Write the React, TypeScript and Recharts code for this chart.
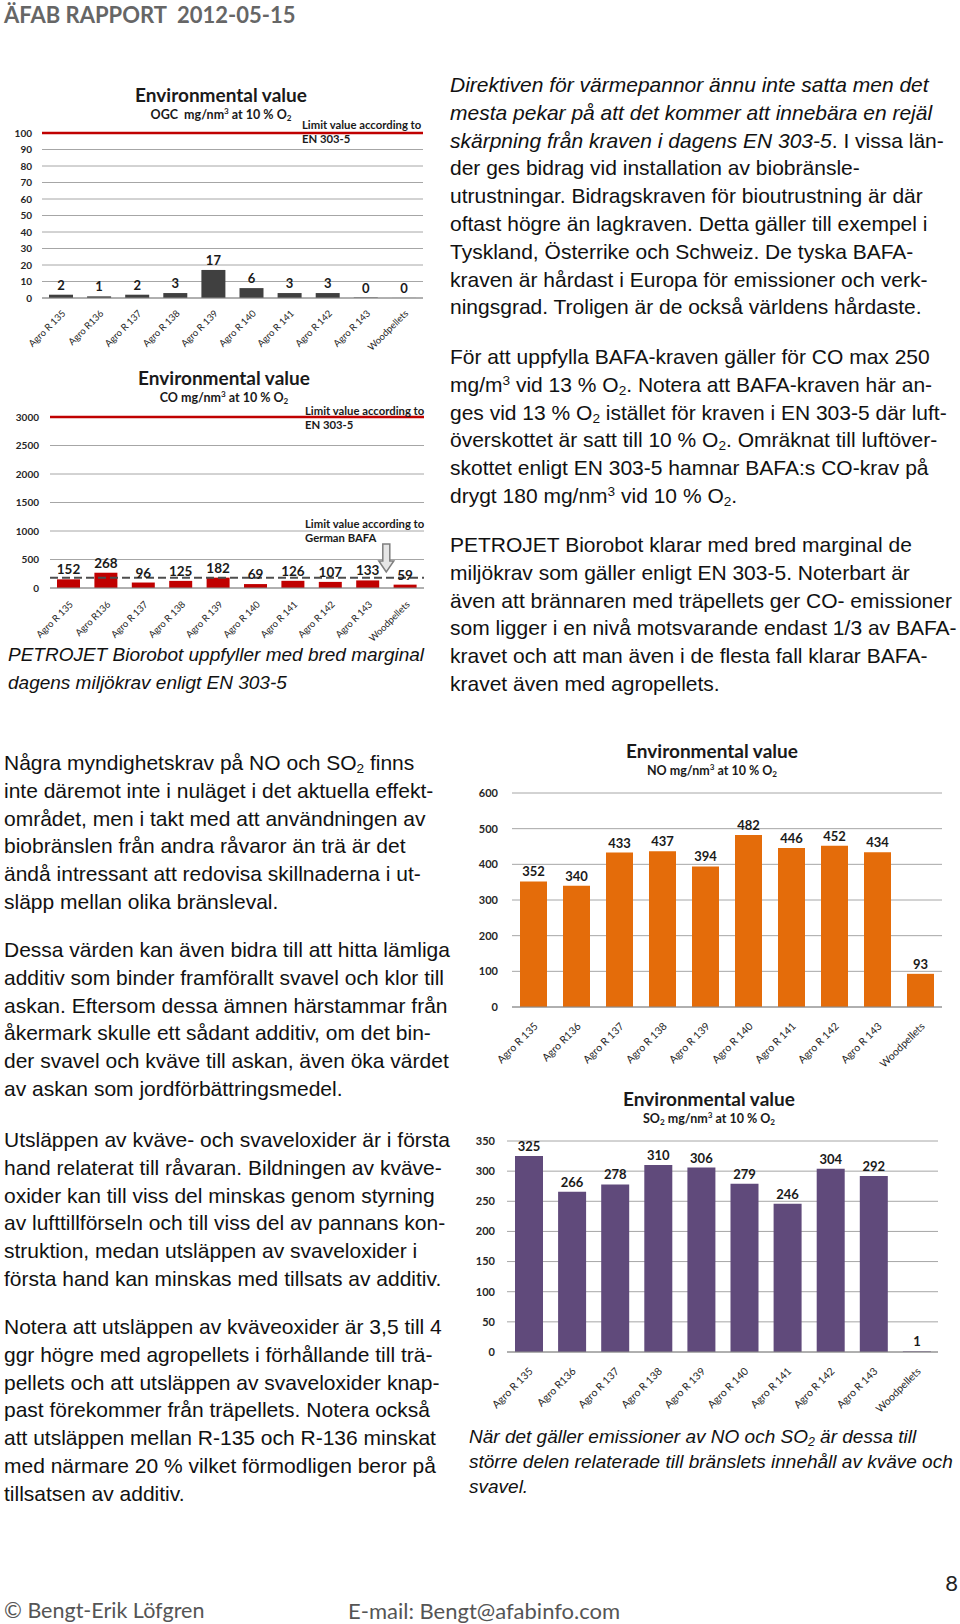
import React from "react";
import {
  BarChart,
  Bar,
  XAxis,
  YAxis,
  CartesianGrid,
  LabelList,
  ReferenceLine,
  ReferenceDot,
} from "recharts";

// fuel samples on the x axis (same in all four charts)
const categories = [
  "Agro R 135",
  "Agro R136",
  "Agro R 137",
  "Agro R 138",
  "Agro R 139",
  "Agro R 140",
  "Agro R 141",
  "Agro R 142",
  "Agro R 143",
  "Woodpellets",
];

// mg/nm3 at 10 % O2 (labels are shown rounded)
const ogcValues = [2, 1, 2, 3, 17, 6, 3, 3, 0.3, 0.04];
const coValues = [152, 268, 96, 125, 182, 69, 126, 107, 133, 59];
const noValues = [352, 340, 433, 437, 394, 482, 446, 452, 434, 93];
const so2Values = [325, 266, 278, 310, 306, 279, 246, 304, 292, 1];

const ogcTicks = [0, 10, 20, 30, 40, 50, 60, 70, 80, 90, 100];
const coTicks = [0, 500, 1000, 1500, 2000, 2500, 3000];
const noTicks = [0, 100, 200, 300, 400, 500, 600];
const so2Ticks = [0, 50, 100, 150, 200, 250, 300, 350];

const ogcLimitEN = 100;
const coLimitEN = 3000;
const coLimitBAFA = 180;

const toRows = (values: number[]) =>
  categories.map((name, i) => ({ name, v: values[i] }));

const CAL = "Lato, 'Open Sans', sans-serif";
const ARIAL = "'Liberation Sans', Arial, sans-serif";

const SlantTick = (props: any) => {
  const { x, y, payload, dx, dy, size } = props;
  const ax = x + dx;
  const ay = y + dy;
  return (
    <text
      x={ax}
      y={ay}
      textAnchor="end"
      transform={`rotate(-45 ${ax} ${ay})`}
      fontSize={size}
      fontFamily={CAL}
      fill="#262626"
    >
      {payload.value}
    </text>
  );
};

type ChartProps = {
  values: number[];
  color: string;
  ticks: number[];
  width: number;
  height: number;
  margin: { top: number; right: number; bottom: number; left: number };
  yWidth: number;
  xHeight: number;
  tickGap: number;
  barSize: number;
  labelSize: number;
  yFont: number;
  xFont: number;
  xOff: [number, number];
  children?: React.ReactNode;
};

const EnvChart = (p: ChartProps) => (
  <BarChart width={p.width} height={p.height} data={toRows(p.values)} margin={p.margin}>
    <CartesianGrid vertical={false} stroke="#a6a6a6" />
    <XAxis
      dataKey="name"
      interval={0}
      height={p.xHeight}
      tickLine={false}
      axisLine={{ stroke: "#8c8c8c" }}
      tick={(t: any) => (
        <SlantTick {...t} dx={p.xOff[0]} dy={p.xOff[1]} size={p.xFont} />
      )}
    />
    <YAxis
      type="number"
      domain={[p.ticks[0], p.ticks[p.ticks.length - 1]]}
      ticks={p.ticks}
      interval={0}
      width={p.yWidth}
      axisLine={false}
      tickLine={false}
      tickSize={0}
      tickMargin={p.tickGap}
      tick={{ fontSize: p.yFont, fontWeight: 700, fill: "#262626", fontFamily: CAL }}
    />
    <Bar dataKey="v" fill={p.color} barSize={p.barSize} isAnimationActive={false}>
      <LabelList
        dataKey="v"
        position="top"
        offset={5}
        fill="#1a1a1a"
        fontSize={p.labelSize}
        fontWeight={700}
        fontFamily={CAL}
        formatter={(v: any) => Math.round(Number(v))}
      />
    </Bar>
    {p.children}
  </BarChart>
);

const Txt = ({ x, y, center, style, children }: any) => (
  <div
    style={{
      position: "absolute",
      left: x,
      top: y,
      transform: center ? "translate(-50%, -50%)" : "translateY(-50%)",
      whiteSpace: "nowrap",
      ...style,
    }}
  >
    {children}
  </div>
);

const Sub = ({ children }: any) => (
  <sub style={{ fontSize: "0.65em", lineHeight: 0, verticalAlign: "-0.25em" }}>{children}</sub>
);
const Sup = ({ children }: any) => (
  <sup style={{ fontSize: "0.65em", lineHeight: 0, verticalAlign: "0.55em" }}>{children}</sup>
);

const Para = ({ x, y, lines, size = 21, lh = 27.8, italic = false }: any) => (
  <div
    style={{
      position: "absolute",
      left: x,
      top: y,
      fontFamily: ARIAL,
      fontSize: size,
      lineHeight: `${lh}px`,
      color: "#111",
      fontStyle: italic ? "italic" : "normal",
      whiteSpace: "nowrap",
    }}
  >
    {lines.map((l: React.ReactNode, i: number) => (
      <div key={i}>{l}</div>
    ))}
  </div>
);

const ChartTitle = ({ x, y, sub }: any) => (
  <>
    <Txt x={x} y={y} center style={{ fontFamily: CAL, fontWeight: 700, fontSize: 19, color: "#1a1a1a" }}>
      Environmental value
    </Txt>
    <Txt x={x} y={y + 20} center style={{ fontFamily: CAL, fontWeight: 700, fontSize: 12.5, color: "#1a1a1a" }}>
      {sub}
    </Txt>
  </>
);

const LimitNote = ({ x, y, lines }: any) => (
  <div
    style={{
      position: "absolute",
      left: x,
      top: y,
      fontFamily: CAL,
      fontWeight: 700,
      fontSize: 11.3,
      lineHeight: "14px",
      color: "#1a1a1a",
      whiteSpace: "nowrap",
    }}
  >
    {lines.map((l: string) => (
      <div key={l}>{l}</div>
    ))}
  </div>
);

const Arrow = (props: any) => {
  const { cx, cy } = props;
  const ax = cx - 19;
  const d = `M${ax},${cy} L${ax - 7.5},${cy - 11} L${ax - 3.5},${cy - 11} L${ax - 3.5},${cy - 28} L${ax + 3.5},${cy - 28} L${ax + 3.5},${cy - 11} L${ax + 7.5},${cy - 11} Z`;
  return <path d={d} fill="#e6e6e6" stroke="#7f7f7f" strokeWidth={1.5} />;
};

export default function App() {
  return (
    <div
      style={{
        position: "absolute",
        left: 0,
        top: 0,
        width: 960,
        height: 1624,
        background: "#fff",
        overflow: "hidden",
      }}
    >
      <Txt x={4} y={14} style={{ fontFamily: CAL, fontWeight: 700, fontSize: 22, color: "#666" }}>
        ÄFAB RAPPORT&nbsp; 2012-05-15
      </Txt>

      {/* OGC */}
      <div style={{ position: "absolute", left: 0, top: 0 }}>
        <EnvChart
          values={ogcValues}
          color="#404040"
          ticks={ogcTicks}
          width={440}
          height={372}
          margin={{ top: 133, right: 17, bottom: 0, left: 0 }}
          yWidth={42}
          xHeight={74}
          tickGap={10}
          barSize={24}
          labelSize={13}
          yFont={10}
          xFont={9.5}
          xOff={[5, 8]}
        >
          <ReferenceLine y={ogcLimitEN} stroke="#c00000" strokeWidth={2.6} />
        </EnvChart>
      </div>
      <ChartTitle
        x={221}
        y={94}
        sub={
          <>
            OGC&nbsp; mg/nm<Sup>3</Sup> at 10 % O<Sub>2</Sub>
          </>
        }
      />
      <LimitNote x={302} y={117.5} lines={["Limit value according to", "EN 303-5"]} />

      {/* CO */}
      <div style={{ position: "absolute", left: 0, top: 340 }}>
        <EnvChart
          values={coValues}
          color="#c00000"
          ticks={coTicks}
          width={440}
          height={318}
          margin={{ top: 77, right: 16, bottom: 0, left: 0 }}
          yWidth={50}
          xHeight={70}
          tickGap={11}
          barSize={23}
          labelSize={13.5}
          yFont={10}
          xFont={9.5}
          xOff={[5, 9]}
        >
          <ReferenceLine y={coLimitEN} stroke="#c00000" strokeWidth={2.6} />
          <ReferenceLine y={coLimitBAFA} stroke="#4d4d4d" strokeWidth={2.2} strokeDasharray="8 4" />
          <ReferenceDot x="Woodpellets" y={280} r={0} shape={Arrow} />
        </EnvChart>
      </div>
      <ChartTitle
        x={224}
        y={377}
        sub={
          <>
            CO mg/nm<Sup>3</Sup> at 10 % O<Sub>2</Sub>
          </>
        }
      />
      <LimitNote x={305} y={403.5} lines={["Limit value according to", "EN 303-5"]} />
      <LimitNote x={305} y={517} lines={["Limit value according to", "German BAFA"]} />

      <Para
        x={8}
        y={641}
        size={19}
        italic
        lines={["PETROJET Biorobot uppfyller med bred marginal", "dagens miljökrav enligt EN 303-5"]}
      />

      {/* right column text */}
      <Para
        x={450}
        y={71}
        lines={[
          <i>Direktiven för värmepannor ännu inte satta men det</i>,
          <i>mesta pekar på att det kommer att innebära en rejäl</i>,
          <>
            <i>skärpning från kraven i dagens EN 303-5</i>. I vissa län-
          </>,
          "der ges bidrag vid installation av biobränsle-",
          "utrustningar. Bidragskraven för bioutrustning är där",
          "oftast högre än lagkraven. Detta gäller till exempel i",
          "Tyskland, Österrike och Schweiz. De tyska BAFA-",
          "kraven är hårdast i Europa för emissioner och verk-",
          "ningsgrad. Troligen är de också världens hårdaste.",
        ]}
      />
      <Para
        x={450}
        y={343}
        lines={[
          "För att uppfylla BAFA-kraven gäller för CO max 250",
          <>
            mg/m<Sup>3</Sup> vid 13 % O<Sub>2</Sub>. Notera att BAFA-kraven här an-
          </>,
          <>
            ges vid 13 % O<Sub>2</Sub> istället för kraven i EN 303-5 där luft-
          </>,
          <>
            överskottet är satt till 10 % O<Sub>2</Sub>. Omräknat till luftöver-
          </>,
          "skottet enligt EN 303-5 hamnar BAFA:s CO-krav på",
          <>
            drygt 180 mg/nm<Sup>3</Sup> vid 10 % O<Sub>2</Sub>.
          </>,
        ]}
      />
      <Para
        x={450}
        y={531}
        lines={[
          "PETROJET Biorobot klarar med bred marginal de",
          "miljökrav som gäller enligt EN 303-5. Noterbart är",
          "även att brännaren med träpellets ger CO- emissioner",
          "som ligger i en nivå motsvarande endast 1/3 av BAFA-",
          "kravet och att man även i de flesta fall klarar BAFA-",
          "kravet även med agropellets.",
        ]}
      />

      {/* left column text */}
      <Para
        x={4}
        y={749}
        lines={[
          <>
            Några myndighetskrav på NO och SO<Sub>2</Sub> finns
          </>,
          "inte däremot inte i nuläget i det aktuella effekt-",
          "området, men i takt med att användningen av",
          "biobränslen från andra råvaror än trä är det",
          "ändå intressant att redovisa skillnaderna i ut-",
          "släpp mellan olika bränsleval.",
        ]}
      />
      <Para
        x={4}
        y={936}
        lines={[
          "Dessa värden kan även bidra till att hitta lämliga",
          "additiv som binder framförallt svavel och klor till",
          "askan. Eftersom dessa ämnen härstammar från",
          "åkermark skulle ett sådant additiv, om det bin-",
          "der svavel och kväve till askan, även öka värdet",
          "av askan som jordförbättringsmedel.",
        ]}
      />
      <Para
        x={4}
        y={1126}
        lines={[
          "Utsläppen av kväve- och svaveloxider är i första",
          "hand relaterat till råvaran. Bildningen av kväve-",
          "oxider kan till viss del minskas genom styrning",
          "av lufttillförseln och till viss del av pannans kon-",
          "struktion, medan utsläppen av svaveloxider i",
          "första hand kan minskas med tillsats av additiv.",
        ]}
      />
      <Para
        x={4}
        y={1313}
        lines={[
          "Notera att utsläppen av kväveoxider är 3,5 till 4",
          "ggr högre med agropellets i förhållande till trä-",
          "pellets och att utsläppen av svaveloxider knap-",
          "past förekommer från träpellets. Notera också",
          "att utsläppen mellan R-135 och R-136 minskat",
          "med närmare 20 % vilket förmodligen beror på",
          "tillsatsen av additiv.",
        ]}
      />

      {/* NO */}
      <div style={{ position: "absolute", left: 440, top: 780 }}>
        <EnvChart
          values={noValues}
          color="#e46c0a"
          ticks={noTicks}
          width={520}
          height={300}
          margin={{ top: 13, right: 18, bottom: 0, left: 0 }}
          yWidth={72}
          xHeight={73}
          tickGap={14}
          barSize={27}
          labelSize={13}
          yFont={11}
          xFont={10.5}
          xOff={[5, 12]}
        />
      </div>
      <ChartTitle
        x={712}
        y={750}
        sub={
          <>
            NO mg/nm<Sup>3</Sup> at 10 % O<Sub>2</Sub>
          </>
        }
      />

      {/* SO2 */}
      <div style={{ position: "absolute", left: 440, top: 1130 }}>
        <EnvChart
          values={so2Values}
          color="#604a7b"
          ticks={so2Ticks}
          width={520}
          height={292}
          margin={{ top: 11, right: 22, bottom: 0, left: 0 }}
          yWidth={67}
          xHeight={70}
          tickGap={12}
          barSize={28}
          labelSize={13}
          yFont={11}
          xFont={10.5}
          xOff={[5, 12]}
        />
      </div>
      <ChartTitle
        x={709}
        y={1098}
        sub={
          <>
            SO<Sub>2</Sub> mg/nm<Sup>3</Sup> at 10 % O<Sub>2</Sub>
          </>
        }
      />
      <Para
        x={469}
        y={1424}
        size={19}
        lh={25}
        italic
        lines={[
          <>
            När det gäller emissioner av NO och SO<Sub>2</Sub> är dessa till
          </>,
          "större delen relaterade till bränslets innehåll av kväve och",
          "svavel.",
        ]}
      />

      {/* footer */}
      <Txt x={958} y={1582} style={{ fontFamily: CAL, fontSize: 22, color: "#222", transform: "translate(-100%, -50%)" }}>
        8
      </Txt>
      <Txt x={4} y={1610} style={{ fontFamily: CAL, fontSize: 21.5, color: "#555" }}>
        © Bengt-Erik Löfgren
      </Txt>
      <Txt x={348} y={1610} style={{ fontFamily: CAL, fontSize: 22, color: "#555" }}>
        E-mail: Bengt@afabinfo.com
      </Txt>
    </div>
  );
}
